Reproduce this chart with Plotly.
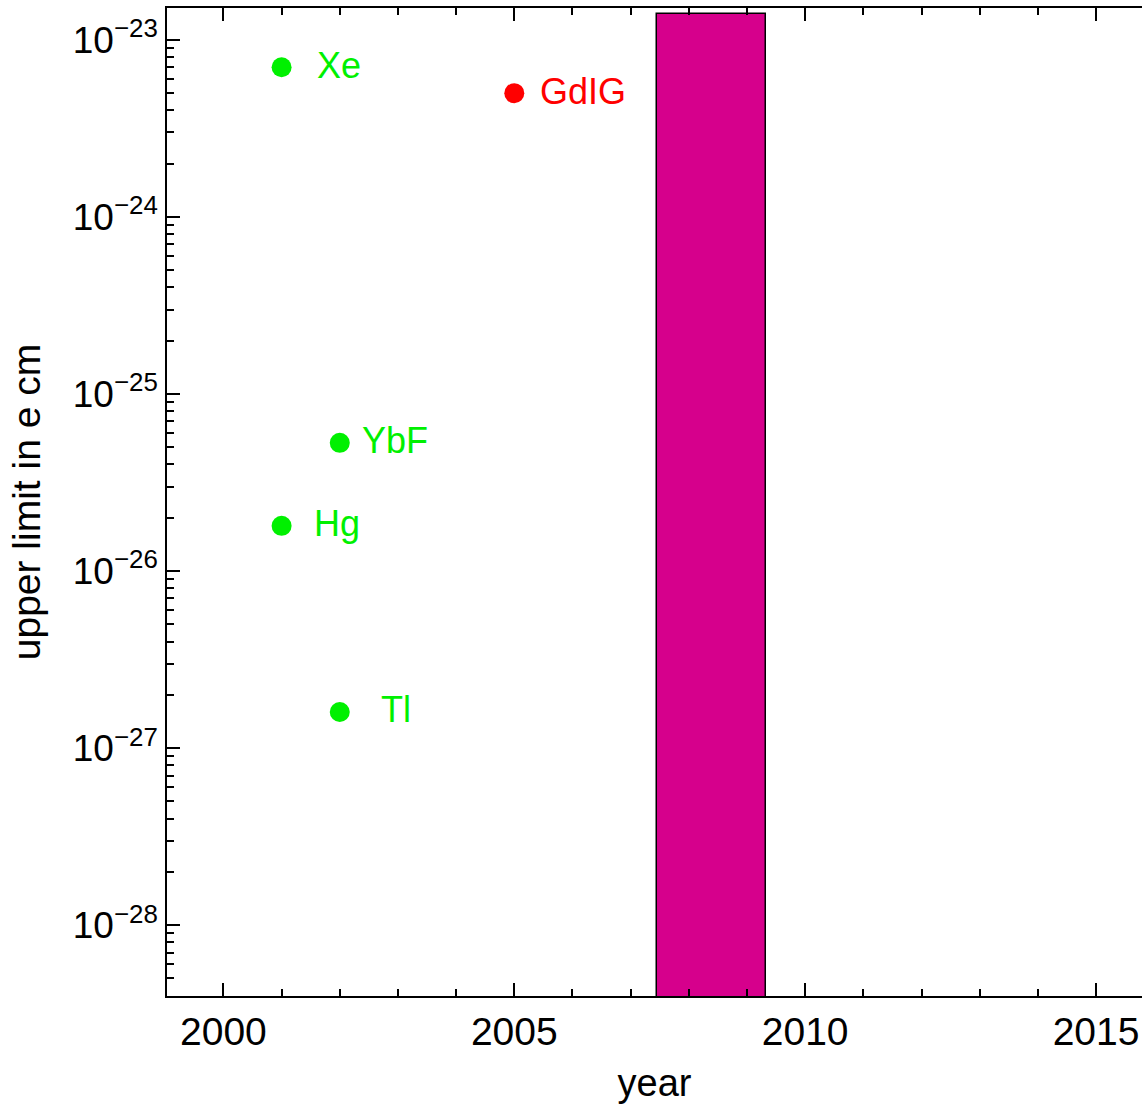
import math
import plotly.graph_objects as go

# ---- data ----
exp_names = ["Xe", "Hg", "YbF", "Tl"]
exp_years = [2001, 2001, 2002, 2002]
exp_limits = [7.0e-24, 1.8e-26, 5.3e-26, 1.6e-27]

gdig_name = ["GdIG"]
gdig_year = [2005]
gdig_limit = [5.0e-24]

bar_start = 2007.45
bar_end = 2009.33
bar_top = 1.4e-23
bar_bottom = 1e-30

x_tickvals = [2000, 2005, 2010, 2015]
y_exponents = [-28, -27, -26, -25, -24, -23]

# ---- style ----
GREEN = "rgb(0,240,0)"
RED = "rgb(255,0,0)"
MAGENTA = "rgb(214,0,140)"
FONT = "Liberation Sans, Arial, sans-serif"

label_xshift = {"Xe": 33, "Hg": 30, "YbF": 20, "Tl": 39, "GdIG": 24}

fig = go.Figure()

fig.add_trace(go.Bar(
    x=[(bar_start + bar_end) / 2], y=[bar_top - bar_bottom], base=[bar_bottom],
    width=[bar_end - bar_start],
    marker=dict(color=MAGENTA, line=dict(color="black", width=1.5)),
    showlegend=False, hoverinfo="skip",
))

fig.add_trace(go.Scatter(
    x=exp_years, y=exp_limits, mode="markers",
    marker=dict(color=GREEN, size=20), showlegend=False,
))
fig.add_trace(go.Scatter(
    x=gdig_year, y=gdig_limit, mode="markers",
    marker=dict(color=RED, size=20), showlegend=False,
))

annotations = []
for n, xv, yv in zip(exp_names, exp_years, exp_limits):
    annotations.append(dict(x=xv, y=math.log10(yv), text=n, showarrow=False,
                            xanchor="left", yanchor="middle", xshift=label_xshift[n], yshift=2,
                            font=dict(color=GREEN, size=36, family=FONT)))
for n, xv, yv in zip(gdig_name, gdig_year, gdig_limit):
    annotations.append(dict(x=xv, y=math.log10(yv), text=n, showarrow=False,
                            xanchor="left", yanchor="middle", xshift=label_xshift[n], yshift=2,
                            font=dict(color=RED, size=36, family=FONT)))

fig.update_layout(
    width=1142, height=1104,
    margin=dict(l=167, r=0, t=8, b=108),
    paper_bgcolor="white", plot_bgcolor="white",
    font=dict(family=FONT, size=36, color="black"),
    annotations=annotations,
    bargap=0,
)

fig.update_xaxes(
    range=[1999.03, 2015.79],
    tickvals=x_tickvals, ticktext=[str(v) for v in x_tickvals],
    ticks="inside", ticklen=13, tickwidth=1.5, tickcolor="black",
    minor=dict(ticks="inside", ticklen=7, tickwidth=1.5, tickcolor="black", dtick=1, showgrid=False),
    showline=True, linecolor="black", linewidth=1.5, mirror="allticks",
    showgrid=False, zeroline=False,
    tickfont=dict(size=39),
    ticklabelstandoff=0,
    title=dict(text="year", font=dict(size=38), standoff=22),
)

fig.update_yaxes(
    type="log", range=[-28.4, -22.82],
    tickvals=[10.0 ** e for e in y_exponents],
    ticktext=["10<sup>\u2212%d</sup>" % (-e) for e in y_exponents],
    ticks="inside", ticklen=13, tickwidth=1.5, tickcolor="black",
    minor=dict(ticks="inside", ticklen=7, tickwidth=1.5, tickcolor="black", dtick="D1", showgrid=False),
    showline=True, linecolor="black", linewidth=1.5, mirror=False,
    showgrid=False, zeroline=False,
    tickfont=dict(size=37),
    title=dict(text="upper limit in e cm", font=dict(size=39), standoff=20),
)

fig.write_html("out.html")
